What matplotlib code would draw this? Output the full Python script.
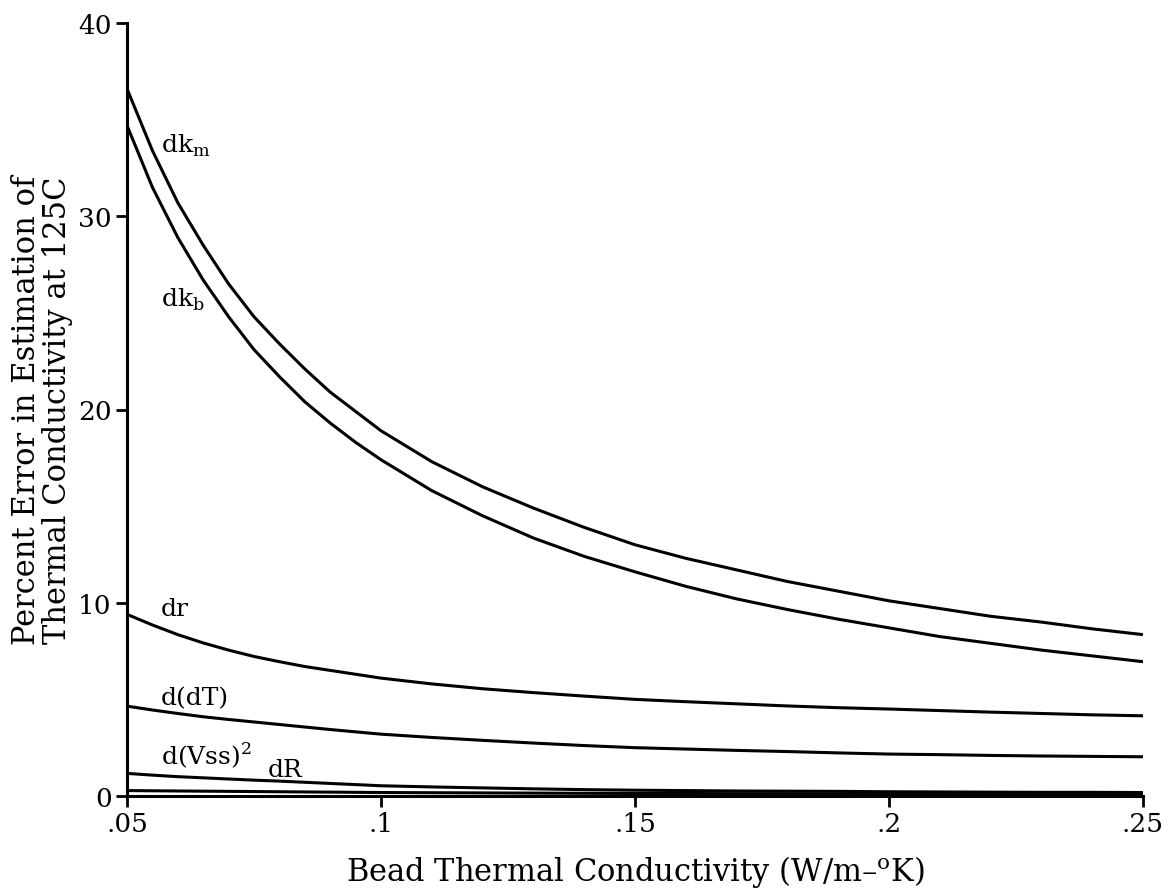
import matplotlib
matplotlib.use("Agg")
import matplotlib.pyplot as plt

plt.rcParams['font.family'] = ['DejaVu Serif']
plt.rcParams['mathtext.fontset'] = 'custom'
plt.rcParams['mathtext.rm'] = 'DejaVu Serif'

k = [0.05, 0.055, 0.06, 0.065, 0.07, 0.075, 0.08, 0.085, 0.09, 0.095, 0.10,
     0.11, 0.12, 0.13, 0.14, 0.15, 0.16, 0.17, 0.18, 0.19, 0.20,
     0.21, 0.22, 0.23, 0.24, 0.25]
dkm = [36.6, 33.4, 30.7, 28.5, 26.5, 24.8, 23.4, 22.1, 20.9, 19.9, 18.9,
       17.3, 16.0, 14.9, 13.9, 13.0, 12.3, 11.7, 11.1, 10.6, 10.1,
       9.7, 9.3, 9.0, 8.65, 8.35]
dkb = [34.7, 31.5, 28.9, 26.7, 24.8, 23.1, 21.7, 20.4, 19.3, 18.3, 17.4,
       15.8, 14.5, 13.35, 12.4, 11.6, 10.85, 10.2, 9.65, 9.15, 8.7,
       8.25, 7.9, 7.55, 7.25, 6.95]
dr = [9.4, 8.85, 8.35, 7.92, 7.55, 7.22, 6.95, 6.7, 6.5, 6.3, 6.1,
      5.8, 5.55, 5.35, 5.17, 5.0, 4.88, 4.77, 4.66, 4.57, 4.5,
      4.42, 4.34, 4.27, 4.2, 4.15]
ddT = [4.65, 4.45, 4.27, 4.1, 3.96, 3.83, 3.7, 3.57, 3.44, 3.32, 3.2,
       3.03, 2.88, 2.74, 2.61, 2.5, 2.43, 2.36, 2.3, 2.23, 2.17,
       2.14, 2.1, 2.07, 2.05, 2.03]
dVss = [1.17, 1.08, 1.0, 0.94, 0.88, 0.82, 0.77, 0.71, 0.65, 0.59, 0.53,
        0.47, 0.42, 0.37, 0.33, 0.30, 0.28, 0.26, 0.25, 0.24, 0.22,
        0.21, 0.20, 0.19, 0.19, 0.18]
dR = [0.28, 0.27, 0.26, 0.25, 0.24, 0.23, 0.22, 0.21, 0.2, 0.19, 0.18,
      0.17, 0.16, 0.15, 0.14, 0.13, 0.13, 0.12, 0.12, 0.11, 0.11,
      0.11, 0.10, 0.10, 0.10, 0.10]

xticks = [0.05, 0.1, 0.15, 0.2, 0.25]
xticklabels = ['.05', '.1', '.15', '.2', '.25']
yticks = [0, 10, 20, 30, 40]

series = [dkm, dkb, dr, ddT, dVss, dR]
labels = [r'dk$_\mathregular{m}$', r'dk$_\mathregular{b}$', 'dr', 'd(dT)',
          r'd(Vss)$^\mathregular{2}$', 'dR']
label_pos = [(0.0566, 33.7), (0.0566, 25.7), (0.0566, 9.7), (0.0566, 5.1),
             (0.0566, 2.17), (0.0777, 1.35)]

fig = plt.figure(figsize=(11.75, 8.95), dpi=100)
ax = fig.add_axes([127/1175, 98/895, (1143-127)/1175, (797-24)/895])

for s in series:
    ax.plot(k, s, color='black', lw=2.2, solid_capstyle='butt')

for lab, (x, y) in zip(labels, label_pos):
    ax.text(x, y, lab, fontsize=18, ha='left', va='center')

ax.set_xlim(0.05, 0.25)
ax.set_ylim(0, 40)
ax.set_xticks(xticks)
ax.set_xticklabels(xticklabels)
ax.set_yticks(yticks)
ax.tick_params(axis='both', labelsize=19, direction='out', length=8, width=2, pad=3)
for sp in ['top', 'right']:
    ax.spines[sp].set_visible(False)
for sp in ['left', 'bottom']:
    ax.spines[sp].set_linewidth(2.2)

ax.set_xlabel('Bead Thermal Conductivity (W/m\u2013$^\\mathregular{o}$K)', fontsize=22, labelpad=12)
ax.set_ylabel('Percent Error in Estimation of\nThermal Conductivity at 125C', fontsize=22,
              labelpad=4, linespacing=1.0)

fig.savefig('out.png', dpi=100, facecolor='white')
